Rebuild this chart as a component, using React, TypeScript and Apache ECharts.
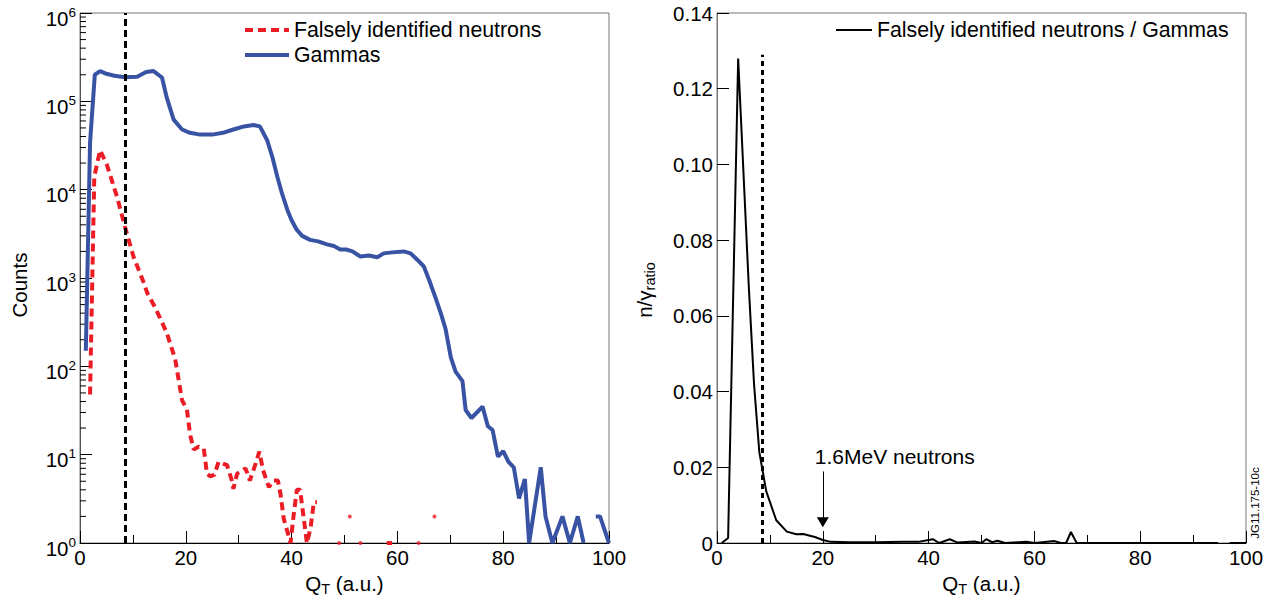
import React, { useEffect, useRef } from 'react';
import * as echarts from 'echarts';

// ---------- data ----------
const gammaQ = [1.1, 1.9, 2.8, 3.8, 5.0, 6.5, 8.5, 10.8, 12.5, 13.9, 15.5, 16.4, 17.7, 19.3, 20.8, 22.7, 25.0, 27.0, 29.0, 31.0, 32.8, 34.0, 35.4, 36.4, 37.3, 38.2, 39.2, 40.0, 41.0, 42.0, 43.5, 45.0, 46.7, 48.0, 49.2, 50.3, 51.5, 53.0, 54.6, 56.2, 57.4, 59.0, 61.2, 62.5, 63.8, 65.0, 66.0, 67.2, 68.2, 69.1, 70.1, 71.0, 72.3, 72.9, 74.0, 76.1, 77.1, 78.0, 79.0, 80.0, 81.0, 82.0, 83.0, 84.1, 84.9, 87.1, 88.0, 89.3, 91.2, 92.6, 94.1, 95.2, 96.3, 97.5, 98.3, 100];
const gammaCounts = [150, 34000, 200000, 220000, 205000, 195000, 187000, 190000, 215000, 220000, 186000, 110000, 62000, 48000, 44000, 42000, 42000, 44000, 48000, 52000, 54000, 52000, 36000, 23000, 14000, 9000, 5900, 4500, 3500, 3000, 2700, 2600, 2400, 2300, 2100, 2100, 2000, 1750, 1800, 1720, 1900, 1950, 2000, 1900, 1600, 1350, 950, 600, 400, 265, 126, 87, 68, 32, 26, 35, 21, 19, 9.5, 11, 8.3, 7.2, 3.2, 5.3, 1, 7.2, 2, 1, 2, 1, 2, 1, 0, 2, 2, 1];

const neutronQ = [1.9, 2.7, 3.8, 5.1, 7.0, 8.5, 10.1, 12.0, 12.7, 14.2, 16.4, 18.0, 19.3, 20.2, 20.8, 21.5, 22.4, 23.4, 24.0, 24.6, 25.4, 26.2, 27.8, 28.7, 29.0, 29.7, 31.3, 32.1, 33.1, 33.9, 34.6, 35.7, 36.6, 37.4, 37.9, 38.5, 39.8, 40.4, 41.0, 41.6, 42.9, 43.6, 44.2, 44.8, 46, 49, 50, 51, 52, 53, 55, 58, 59, 61, 64, 65, 67, 68];
const neutronCounts = [48, 14000, 28000, 19000, 8300, 3800, 1750, 900, 680, 465, 240, 120, 41, 33, 17, 11.4, 12.3, 11.7, 6.1, 5.7, 5.9, 8.3, 7.6, 5.1, 4.1, 6.1, 7.0, 5.1, 7.6, 10.8, 6.7, 4.3, 5.1, 5.1, 3.6, 1.9, 1, 2.1, 4, 4, 1, 1.5, 2.9, 2.9, 0, 1, 0, 2, 0, 1, 0, 1, 1, 0, 1, 0, 2, 0];

const ratioQ = [0.9, 2.1, 4.0, 6.0, 7.0, 8.0, 9.3, 11.2, 13.2, 15.0, 16.3, 18.5, 20.0, 21.5, 25, 30, 35, 38, 40.8, 42, 44, 45.5, 48.7, 50, 50.9, 52, 53, 54.5, 57, 58.5, 60, 63.8, 65, 66, 66.9, 68, 94.7, 95.5, 96.3, 96.9, 100];
const ratioValues: (number | null)[] = [0, 0.0013, 0.128, 0.068, 0.042, 0.024, 0.0137, 0.006, 0.003, 0.0023, 0.0024, 0.0016, 0.0008, 0.0003, 0.0002, 0.0002, 0.0003, 0.0003, 0.001, 0, 0.001, 0.0001, 0.0004, 0, 0.001, 0.0002, 0.0006, 0, 0.0002, 0.0003, 0, 0.0005, 0, 0, 0.0029, 0, 0, null, null, 0, 0];

const countTicks = [1, 10, 100, 1000, 10000, 100000, 1000000];
const ratioTicks = [0, 0.02, 0.04, 0.06, 0.08, 0.1, 0.12, 0.14];
const qTicks = [0, 20, 40, 60, 80, 100];

const CUT_Q = 8.5;
const CUT_TOP_RATIO = 0.129;
const ARROW_Q = 20;
const ARROW_TOP = 0.0189;
const ARROW_TIP = 0.0055;
const ANNOTATION = '1.6MeV neutrons';
const NAME_NEUTRON = 'Falsely identified neutrons';
const NAME_GAMMA = 'Gammas';
const NAME_RATIO = 'Falsely identified neutrons / Gammas';
const WATERMARK = 'JG11.175-10c';

const FONT = '"Liberation Sans", Arial, Helvetica, sans-serif';
const RED = '#ec1c24';
const BLUE = '#3953a4';
const TICK_FONT = 20.5;
const NAME_FONT = 20.5;
const LEGEND_FONT = 21.3;

export default function App() {
  const ref = useRef<HTMLDivElement>(null);

  useEffect(() => {
    if (!ref.current) return;
    const chart = echarts.init(ref.current, null, { renderer: 'svg' });

    const logPoints = (qs: number[], vs: number[]) => qs.map((q, i) => [q, vs[i] > 0 ? vs[i] : '-']);
    const isolated = (qs: number[], vs: number[]) =>
      qs
        .map((q, i) => ({ q, v: vs[i], prev: i > 0 ? vs[i - 1] : 0, next: i < vs.length - 1 ? vs[i + 1] : 0 }))
        .filter((p) => p.v > 0 && !(p.prev > 0) && !(p.next > 0))
        .map((p) => [p.q, p.v]);

    // minor log ticks 2..9 x 10^k
    const minorLog: number[][] = [];
    for (let k = 0; k < countTicks.length - 1; k++) {
      for (let m = 2; m <= 9; m++) minorLog.push([0, m * countTicks[k]]);
    }

    const xAxisCommon = {
      type: 'value',
      min: qTicks[0],
      max: qTicks[qTicks.length - 1],
      interval: 20,
      nameLocation: 'middle',
      nameGap: 23,
      name: '{q|Q}{t|T}{q| (a.u.)}',
      nameTextStyle: {
        rich: {
          q: { fontSize: NAME_FONT, lineHeight: 26, fontFamily: FONT, color: '#000' },
          t: { fontSize: 14.5, lineHeight: 16, verticalAlign: 'bottom', fontFamily: FONT, color: '#000' },
        },
      },
      axisLine: { show: true, onZero: false, lineStyle: { color: '#000', width: 1 } },
      axisTick: { show: true, inside: true, length: 12, lineStyle: { color: '#000' } },
      minorTick: { show: true, splitNumber: 2, length: 8, lineStyle: { color: '#000' } },
      splitLine: { show: false },
      minorSplitLine: { show: false },
      axisLabel: { fontSize: TICK_FONT, color: '#000', fontFamily: FONT, margin: 4 },
    };

    const legendCommon = {
      padding: 0,
      itemHeight: 12,
      selectedMode: false,
      itemStyle: { color: 'rgba(0,0,0,0)', borderWidth: 0, borderColor: 'rgba(0,0,0,0)' },
      textStyle: { fontSize: LEGEND_FONT, lineHeight: 25, color: '#000', fontFamily: FONT },
    };

    const option: any = {
      animation: false,
      backgroundColor: '#fff',
      textStyle: { fontFamily: FONT },
      grid: [
        { left: 80, top: 13, width: 529, height: 530, show: true, borderColor: '#777', borderWidth: 1, backgroundColor: 'transparent' },
        { left: 717, top: 13, width: 529, height: 530, show: true, borderColor: '#777', borderWidth: 1, backgroundColor: 'transparent' },
      ],
      xAxis: [
        { ...xAxisCommon, gridIndex: 0 },
        { ...xAxisCommon, gridIndex: 1 },
      ],
      yAxis: [
        {
          type: 'log',
          gridIndex: 0,
          logBase: 10,
          min: countTicks[0],
          max: countTicks[countTicks.length - 1],
          splitNumber: 6,
          name: 'Counts',
          nameLocation: 'middle',
          nameRotate: 90,
          nameGap: 50,
          nameTextStyle: { fontSize: NAME_FONT, color: '#000', fontFamily: FONT, padding: [0, 14, 0, 0] },
          axisLine: { show: true, lineStyle: { color: '#555', width: 1 } },
          axisTick: { show: true, inside: true, length: 12, lineStyle: { color: '#000' } },
          splitLine: { show: false },
          axisLabel: {
            margin: 4,
            padding: [10, 0, 0, 0],
            formatter: (v: number) => `{b|10}{s|${Math.round(Math.log10(v))}}`,
            rich: {
              b: { fontSize: TICK_FONT, lineHeight: 26, color: '#000', fontFamily: FONT },
              s: { fontSize: 13.5, lineHeight: 14, verticalAlign: 'top', color: '#000', fontFamily: FONT },
            },
          },
        },
        {
          type: 'value',
          gridIndex: 1,
          min: ratioTicks[0],
          max: ratioTicks[ratioTicks.length - 1],
          interval: 0.02,
          name: '{b|n/γ}{s|ratio}',
          nameLocation: 'middle',
          nameRotate: 90,
          nameGap: 60,
          nameTextStyle: {
            padding: [0, 24, 0, 0],
            rich: {
              b: { fontSize: NAME_FONT, lineHeight: 26, color: '#000', fontFamily: FONT },
              s: { fontSize: 14.5, lineHeight: 16, verticalAlign: 'bottom', color: '#000', fontFamily: FONT },
            },
          },
          axisLine: { show: true, onZero: false, lineStyle: { color: '#777', width: 1 } },
          axisTick: { show: true, inside: true, length: 12, lineStyle: { color: '#000' } },
          splitLine: { show: false },
          axisLabel: {
            fontSize: TICK_FONT,
            color: '#000',
            fontFamily: FONT,
            margin: 4,
            formatter: (v: number) => (v === 0 ? '0' : v.toFixed(2)),
          },
        },
      ],
      legend: [
        {
          ...legendCommon,
          left: 243,
          top: 17.5,
          orient: 'vertical',
          itemWidth: 44,
          itemGap: 0,
          lineStyle: { width: 4 },
          data: [NAME_NEUTRON, NAME_GAMMA],
        },
        {
          ...legendCommon,
          left: 835,
          top: 17.5,
          itemWidth: 36,
          lineStyle: { width: 2 },
          data: [NAME_RATIO],
        },
      ],
      series: [
        {
          name: 'minorLogTicks',
          type: 'custom',
          xAxisIndex: 0,
          yAxisIndex: 0,
          silent: true,
          data: minorLog,
          renderItem: (_p: any, api: any) => {
            const pt = api.coord([0, api.value(1)]);
            return {
              type: 'line',
              shape: { x1: pt[0], y1: pt[1], x2: pt[0] + 6, y2: pt[1] },
              style: { stroke: '#000', lineWidth: 1 },
            };
          },
        },
        {
          name: NAME_GAMMA,
          type: 'line',
          xAxisIndex: 0,
          yAxisIndex: 0,
          data: logPoints(gammaQ, gammaCounts),
          showSymbol: false,
          symbol: 'none',
          connectNulls: false,
          clip: true,
          color: BLUE,
          lineStyle: { color: BLUE, width: 4 },
          z: 3,
        },
        {
          name: NAME_NEUTRON,
          type: 'line',
          xAxisIndex: 0,
          yAxisIndex: 0,
          data: logPoints(neutronQ, neutronCounts),
          showSymbol: false,
          symbol: 'none',
          connectNulls: false,
          clip: true,
          color: RED,
          lineStyle: { color: RED, width: 4, type: [8, 5] },
          z: 4,
          markLine: {
            silent: true,
            symbol: 'none',
            label: { show: false },
            lineStyle: { color: '#000', width: 3, type: [7, 4] },
            data: [{ xAxis: CUT_Q }],
          },
        },
        {
          name: 'neutronIsolated',
          type: 'scatter',
          xAxisIndex: 0,
          yAxisIndex: 0,
          data: isolated(neutronQ, neutronCounts),
          symbol: 'circle',
          symbolSize: 4,
          itemStyle: { color: RED },
          silent: true,
          z: 4,
        },
        {
          name: NAME_RATIO,
          type: 'line',
          xAxisIndex: 1,
          yAxisIndex: 1,
          data: ratioQ.map((q, i) => [q, ratioValues[i] === null ? '-' : ratioValues[i]]),
          showSymbol: false,
          symbol: 'none',
          connectNulls: false,
          color: '#000',
          lineStyle: { color: '#000', width: 2 },
          z: 4,
          markLine: {
            silent: true,
            label: { show: false },
            data: [
              [
                { coord: [CUT_Q, 0], symbol: 'none', lineStyle: { color: '#000', width: 3, type: [5, 4] } },
                { coord: [CUT_Q, CUT_TOP_RATIO], symbol: 'none' },
              ],
              [
                { coord: [ARROW_Q, ARROW_TOP], symbol: 'none', lineStyle: { color: '#000', width: 1, type: 'solid' } },
                { coord: [ARROW_Q, ARROW_TIP], symbol: 'triangle', symbolSize: [12, 10] },
              ],
            ],
          },
        },
      ],
      graphic: [
        {
          id: 'watermark',
          type: 'text',
          x: 1255,
          y: 503,
          rotation: Math.PI / 2,
          style: { text: WATERMARK, fontSize: 11.5, fontFamily: FONT, fill: '#000', align: 'center', verticalAlign: 'middle' },
        },
      ],
    };

    chart.setOption(option);

    const top = chart.convertToPixel({ xAxisIndex: 1, yAxisIndex: 1 }, [ARROW_Q, ARROW_TOP]) as number[];
    chart.setOption({
      graphic: [
        {
          id: 'annotation',
          type: 'text',
          x: top[0] - 8,
          y: top[1] - 15,
          style: { text: ANNOTATION, fontSize: 21, fontFamily: FONT, fill: '#000', align: 'left', verticalAlign: 'middle' },
        },
      ],
    });

    return () => chart.dispose();
  }, []);

  return (
    <div
      ref={ref}
      style={{ position: 'fixed', left: 0, top: 0, width: 1275, height: 603, background: '#fff' }}
    />
  );
}
